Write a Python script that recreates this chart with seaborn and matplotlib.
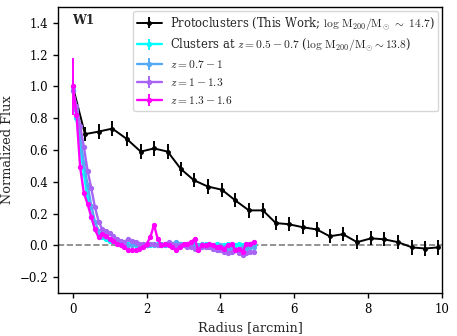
import matplotlib
matplotlib.use('Agg')
import matplotlib.pyplot as plt
import seaborn as sns

# protocluster stack (this work)
r_proto = [0.0, 0.33, 0.70, 1.07, 1.46, 1.84, 2.20, 2.57, 2.93, 3.28, 3.66,
           4.04, 4.39, 4.77, 5.15, 5.50, 5.85, 6.23, 6.61, 6.96, 7.32, 7.70,
           8.08, 8.43, 8.81, 9.19, 9.54, 9.89]
flux_proto = [1.00, 0.70, 0.716, 0.735, 0.67, 0.59, 0.61, 0.59, 0.48, 0.41,
              0.37, 0.35, 0.285, 0.22, 0.22, 0.14, 0.133, 0.114, 0.10, 0.057,
              0.07, 0.02, 0.044, 0.038, 0.02, -0.013, -0.02, -0.013]
err_proto = 0.045

# cluster stacks, common radius grid
r_cl = [0.0, 0.1, 0.2, 0.3, 0.4, 0.5, 0.6, 0.7, 0.8, 0.9,
        1.0, 1.1, 1.2, 1.3, 1.4, 1.5, 1.6, 1.7, 1.8, 1.9,
        2.0, 2.1, 2.2, 2.3, 2.4, 2.5, 2.6, 2.7, 2.8, 2.9,
        3.0, 3.1, 3.2, 3.3, 3.4, 3.5, 3.6, 3.7, 3.8, 3.9,
        4.0, 4.1, 4.2, 4.3, 4.4, 4.5, 4.6, 4.7, 4.8, 4.9]

flux_z05 = [0.98, 0.80, 0.62, 0.45, 0.30, 0.18, 0.10, 0.06, 0.05, 0.04,
            0.03, 0.03, 0.02, 0.02, 0.01, 0.01, 0.01, 0.00, 0.00, 0.01,
            0.00, 0.00, 0.01, 0.01, 0.00, 0.00, 0.01, 0.01, 0.00, 0.01,
            0.01, 0.00, 0.00, 0.01, 0.00, 0.00, 0.01, 0.00, 0.00, 0.01,
            0.00, 0.00, 0.01, 0.00, 0.00, 0.01, 0.00, 0.01, 0.01, 0.01]
flux_z07 = [0.98, 0.85, 0.68, 0.52, 0.38, 0.25, 0.15, 0.09, 0.06, 0.05,
            0.04, 0.03, 0.03, 0.02, 0.01, 0.00, 0.00, 0.01, 0.01, 0.00,
            0.00, 0.01, 0.00, 0.00, 0.01, 0.00, 0.00, 0.01, 0.02, 0.01,
            0.00, 0.01, 0.01, 0.00, 0.00, 0.01, 0.00, 0.00, -0.01, -0.01,
            0.00, -0.01, -0.02, -0.01, -0.02, -0.03, -0.01, -0.02, -0.01, -0.01]
flux_z10 = [0.97, 0.88, 0.75, 0.62, 0.47, 0.36, 0.24, 0.15, 0.10, 0.09,
            0.08, 0.06, 0.04, 0.03, 0.02, 0.04, 0.03, 0.02, 0.01, 0.01,
            0.00, 0.01, 0.01, 0.00, 0.00, 0.01, 0.02, 0.01, 0.00, 0.00,
            0.00, -0.01, -0.01, -0.02, -0.02, -0.01, -0.01, -0.01, -0.02, -0.03,
            -0.03, -0.04, -0.05, -0.04, -0.03, -0.05, -0.06, -0.05, -0.04, -0.04]
flux_z13 = [1.00, 0.82, 0.49, 0.33, 0.26, 0.18, 0.10, 0.05, 0.07, 0.06,
            0.04, 0.03, 0.01, 0.00, -0.01, -0.03, -0.03, -0.03, -0.02, -0.01,
            0.01, 0.05, 0.13, 0.04, 0.00, 0.01, 0.00, -0.01, -0.03, -0.01,
            0.01, 0.01, 0.02, 0.04, -0.03, 0.00, 0.00, 0.01, 0.00, -0.01,
            -0.01, -0.02, 0.00, 0.01, -0.03, -0.02, -0.04, 0.01, 0.01, 0.02]
err_first = [0.06, 0.08, 0.08, 0.18]
err_rest = 0.012

labels = [
    r'Protoclusters (This Work; $\log\,\mathrm{M_{200}/M_{\odot}}\ \sim\ 14.7$)',
    r'Clusters at $z=0.5-0.7$ ($\log\,\mathrm{M_{200}/M_{\odot}}\sim13.8$)',
    r'$z=0.7-1$',
    r'$z=1-1.3$',
    r'$z=1.3-1.6$',
]
colors = ['black', '#00ffff', '#55aaf5', '#a865f5', '#ff00ff']

sns.set_style('ticks')
plt.rcParams['font.family'] = ['DejaVu Serif']
plt.rcParams['mathtext.fontset'] = 'cm'

fig = plt.figure(figsize=(4.57, 3.36), dpi=100)
ax = fig.add_axes([0.127, 0.128, 0.84, 0.851])

ax.axhline(0, color='grey', ls='--', lw=1.2, zorder=1)

ax.errorbar(r_proto, flux_proto, yerr=err_proto, color=colors[0],
            marker='o', ms=2.5, lw=1.4, elinewidth=1.4, label=labels[0],
            zorder=1.5)

cluster_series = [flux_z05, flux_z07, flux_z10, flux_z13]
for i, flux in enumerate(cluster_series):
    yerr = [err_first[i]] + [err_rest] * (len(flux) - 1)
    ax.errorbar(r_cl, flux, yerr=yerr, color=colors[i + 1], marker='o',
                ms=2.8, lw=1.7, elinewidth=1.4, label=labels[i + 1],
                zorder=2 + 0.1 * i)

ax.set_xlim(-0.4, 10)
ax.set_ylim(-0.3, 1.5)
ax.set_xticks([0, 2, 4, 6, 8, 10])
ax.set_yticks([-0.2, 0.0, 0.2, 0.4, 0.6, 0.8, 1.0, 1.2, 1.4])
ax.tick_params(labelsize=8.5, length=3.5, width=1.0, colors='black',
               direction='out', left=True, bottom=True)
for s in ax.spines.values():
    s.set_color('black')
    s.set_linewidth(1.0)
ax.set_xlabel('Radius [arcmin]', fontsize=9.3)
ax.set_ylabel('Normalized Flux', fontsize=9.3)

ax.text(0.036, 0.975, 'W1', transform=ax.transAxes, fontsize=8.8,
        fontweight='bold', va='top')

ax.legend(loc='upper right', fontsize=8.3, frameon=True, borderaxespad=0.3,
          handlelength=2.1, handletextpad=0.7, labelspacing=0.42,
          borderpad=0.35)

fig.savefig('out.png', dpi=100)
